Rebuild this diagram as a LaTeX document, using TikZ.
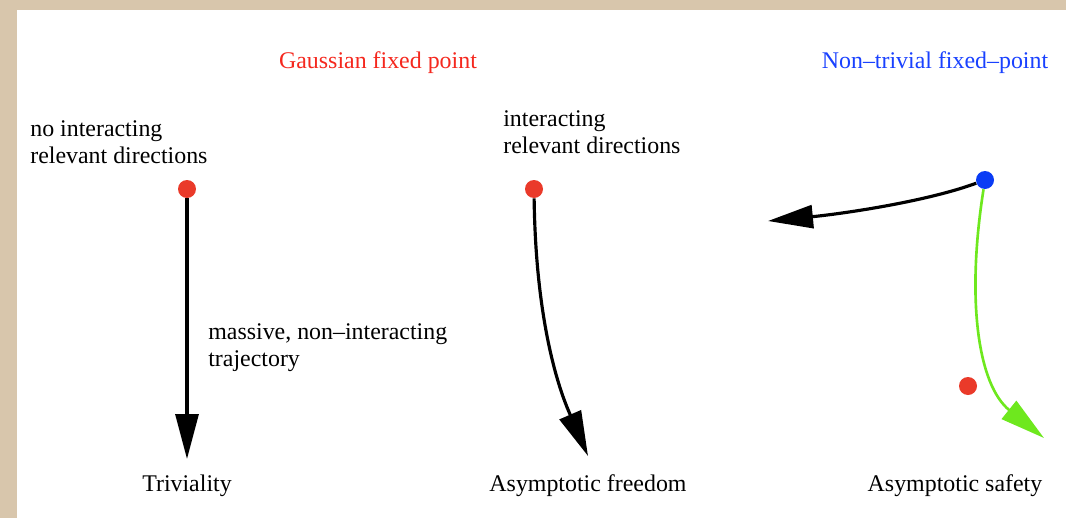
\documentclass[tikz,border=0pt]{standalone}
\usepackage{fontspec}
\setmainfont{Liberation Serif}
\usetikzlibrary{arrows.meta}

\definecolor{fpred}{RGB}{234,58,42}
\definecolor{fpblue}{RGB}{10,60,245}
\definecolor{titlered}{RGB}{245,40,30}
\definecolor{titleblue}{RGB}{25,65,255}
\definecolor{safegreen}{RGB}{110,232,30}
\definecolor{paper}{RGB}{216,198,172}

\begin{document}
\begin{tikzpicture}[x=0.02cm, y=-0.02cm,
  every node/.style={font=\fontsize{13.6}{15.5}\selectfont, inner sep=0pt},
  fixpt/.style={circle, inner sep=0pt, minimum size=0.36cm},
  flow/.style={-{Triangle[length=0.9cm, width=0.46cm]}, line width=1.8pt}]

  % Frame: beige border, white sheet
  \fill[paper] (0,0) rectangle (1066,518);
  \fill[white] (17,10) rectangle (1066,518);
  \useasboundingbox (0,0) rectangle (1066,518);

  % Titles
  \node[text=titlered] (gausstitle) at (378,63) {Gaussian fixed point};
  \node[text=titleblue] (nttitle) at (935,63) {Non--trivial fixed--point};

  % Fixed points
  \node[fixpt, fill=fpred] (gfpa) at (187,189) {};
  \node[fixpt, fill=fpred] (gfpb) at (534,189) {};
  \node[fixpt, fill=fpblue] (ntfp) at (985,180) {};
  \node[fixpt, fill=fpred] (gfpc) at (968,386) {};

  % Arrow tips
  \coordinate (trivtip) at (187,459);
  \coordinate (freetip) at (588,456);
  \coordinate (lefttip) at (768,221);
  \coordinate (safetip) at (1044,438);

  % Side labels
  \node[anchor=west, align=left] (nodir) at (30,142)
    {no interacting\\relevant directions};
  \node[anchor=west, align=left] (intdir) at (503,132)
    {interacting\\relevant directions};
  \node[anchor=west, align=left] (massive) at (208,348)
    {massive, non--interacting\\trajectory};

  % Flows
  \draw[flow] (gfpa) -- (trivtip);
  \draw[flow] (gfpb) .. controls (536,340) and (566,405) .. (freetip);
  \draw[flow] (ntfp) .. controls (925,202) and (840,214) .. (lefttip);
  \draw[flow, safegreen, line width=1.5pt] (ntfp) .. controls (966,300) and (978,385) .. (safetip);

  % Bottom labels
  \node (triv) at (187,486) {Triviality};
  \node (free) at (588,486) {Asymptotic freedom};
  \node (safe) at (955,486) {Asymptotic safety};

\end{tikzpicture}
\end{document}
